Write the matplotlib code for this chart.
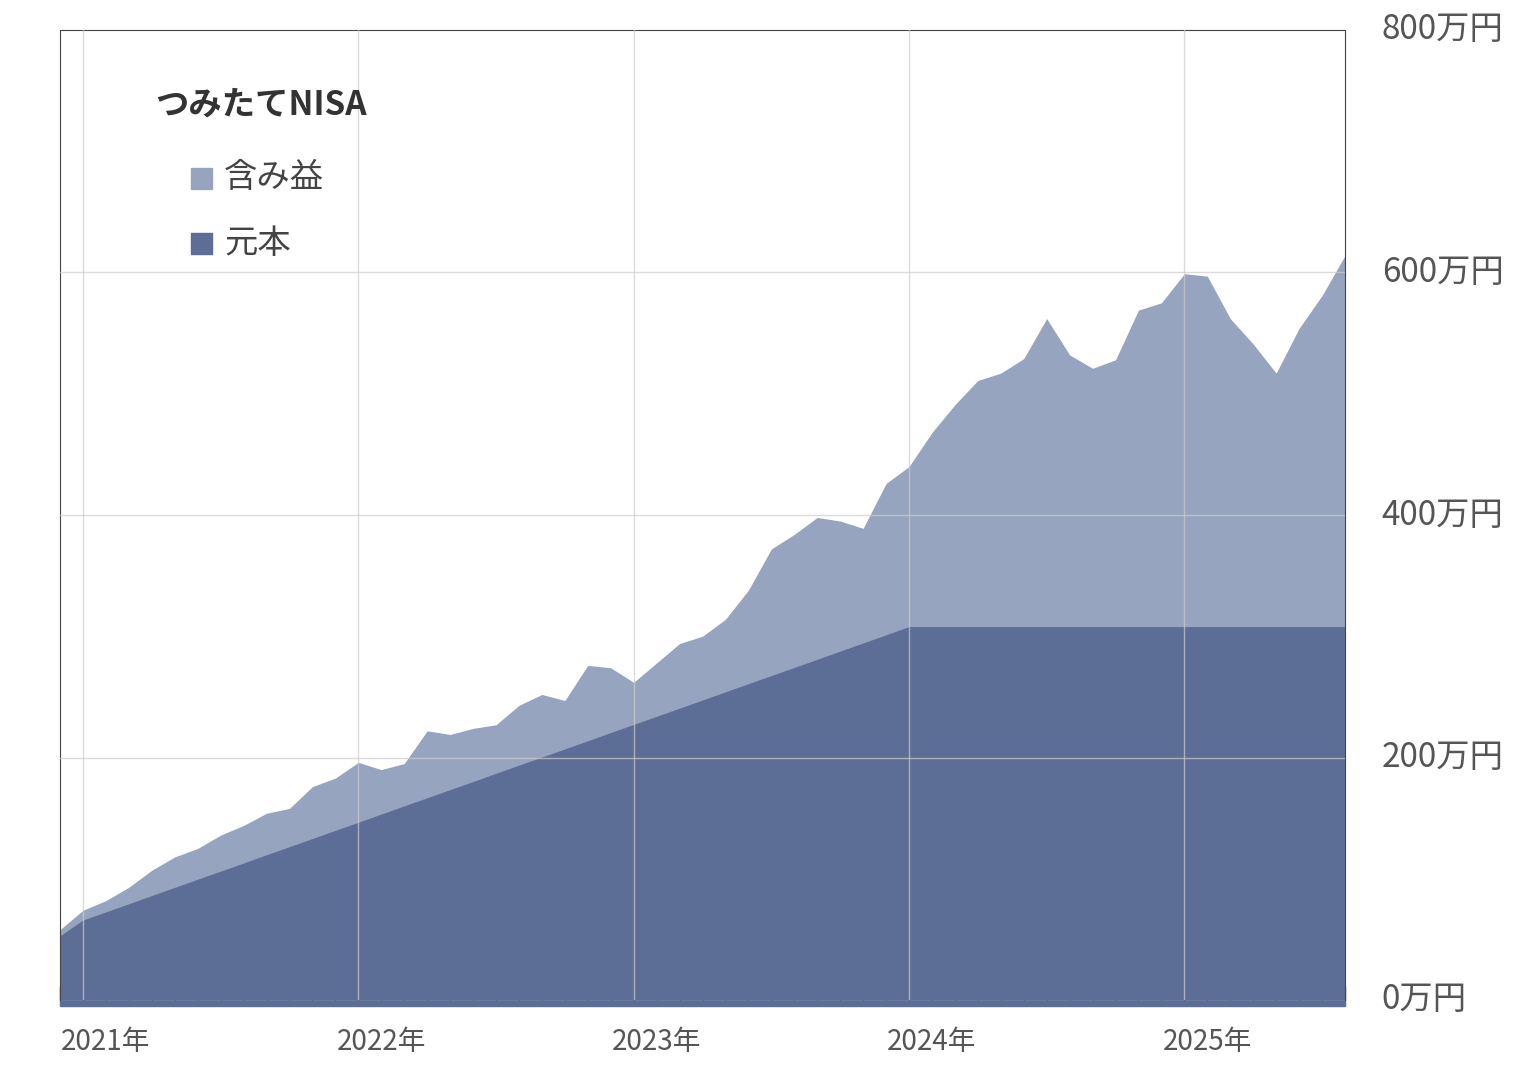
import matplotlib.pyplot as plt
import numpy as np
import pandas as pd

plt.rcParams['font.family'] = 'Noto Sans CJK JP'

# monthly, Dec 2020 .. Aug 2025 (万円)
months = pd.date_range('2020-12-01', '2025-08-01', freq='MS')
total = [58, 74, 82, 93, 107, 118, 125, 136, 144, 154, 158, 176, 183, 196, 190, 195,
         222, 219, 224, 227, 243, 252, 247, 276, 274, 262, 278, 294, 300, 314, 338, 372,
         384, 398, 395, 389, 426, 440, 468, 491, 511, 517, 529, 562, 532, 521, 528, 569,
         575, 599, 597, 562, 541, 517, 554, 581, 614]
principal = [53, 66, 72.7, 79.4, 86.2, 92.9, 99.6, 106.3, 113, 119.8, 126.5, 133.2, 139.9,
             146.6, 153.4, 160.1, 166.8, 173.5, 180.2, 187, 193.7, 200.4, 207.1, 213.8,
             220.6, 227.3, 234, 240.7, 247.4, 254.2, 260.9, 267.6, 274.3, 281, 287.8,
             294.5, 301.2, 308] + [308] * 19
year_labels = ['2021年', '2022年', '2023年', '2024年', '2025年']
y_ticks = [0, 200, 400, 600, 800]

x = np.arange(len(months))
fig = plt.figure(figsize=(15.2, 10.82), dpi=100)
ax = fig.add_axes([60/1520, 1-1000/1082, (1345-60)/1520, 970/1082])

c_prin = '#5d6e96'
c_gain = '#97a4bf'
ax.fill_between(x, 0, total, color=c_gain, lw=0, zorder=1)
ax.fill_between(x, 0, principal, color=c_prin, lw=0, zorder=2)

ax.set_xlim(0, len(x) - 1)
ax.set_ylim(0, 800)
jan_idx = [i for i, m in enumerate(months) if m.month == 1]
for i in jan_idx:
    ax.axvline(i, color='#cccccc', lw=1, alpha=0.7, zorder=3)
for v in y_ticks[1:-1]:
    ax.axhline(v, color='#cccccc', lw=1, alpha=0.7, zorder=3)

ax.set_xticks(x)
ax.set_xticklabels([])
ax.tick_params(axis='x', direction='in', length=10, width=1, color='#333333', pad=0)
ax.set_yticks([])
ax.axhspan(-1.5*800/970*4, 0, color=c_prin, clip_on=False, zorder=0)
for s in ['left', 'top', 'right']:
    ax.spines[s].set_color('#444444')
ax.spines['bottom'].set_visible(False)

for i, lab in zip(jan_idx, year_labels):
    ax.text(i + 1, -35, lab, ha='center', va='center', fontsize=20, color='#555555')
for v in y_ticks:
    ax.text(len(x) - 1 + 1.6, v, f'{v}万円', ha='left', va='center',
            fontsize=24, color='#555555', clip_on=False)

fig.text(155/1520, 1-105/1082, 'つみたてNISA', fontsize=24, fontweight='bold',
         color='#333333', va='center')
for yy, col, lab in [(178, c_gain, '含み益'), (243, c_prin, '元本')]:
    fig.patches.append(plt.Rectangle((191/1520, 1-(yy+11)/1082), 21/1520, 21/1082,
                                     transform=fig.transFigure, color=col))
    fig.text(224/1520, 1-yy/1082, lab, fontsize=24, color='#444444', va='center')

fig.savefig('out.png')
